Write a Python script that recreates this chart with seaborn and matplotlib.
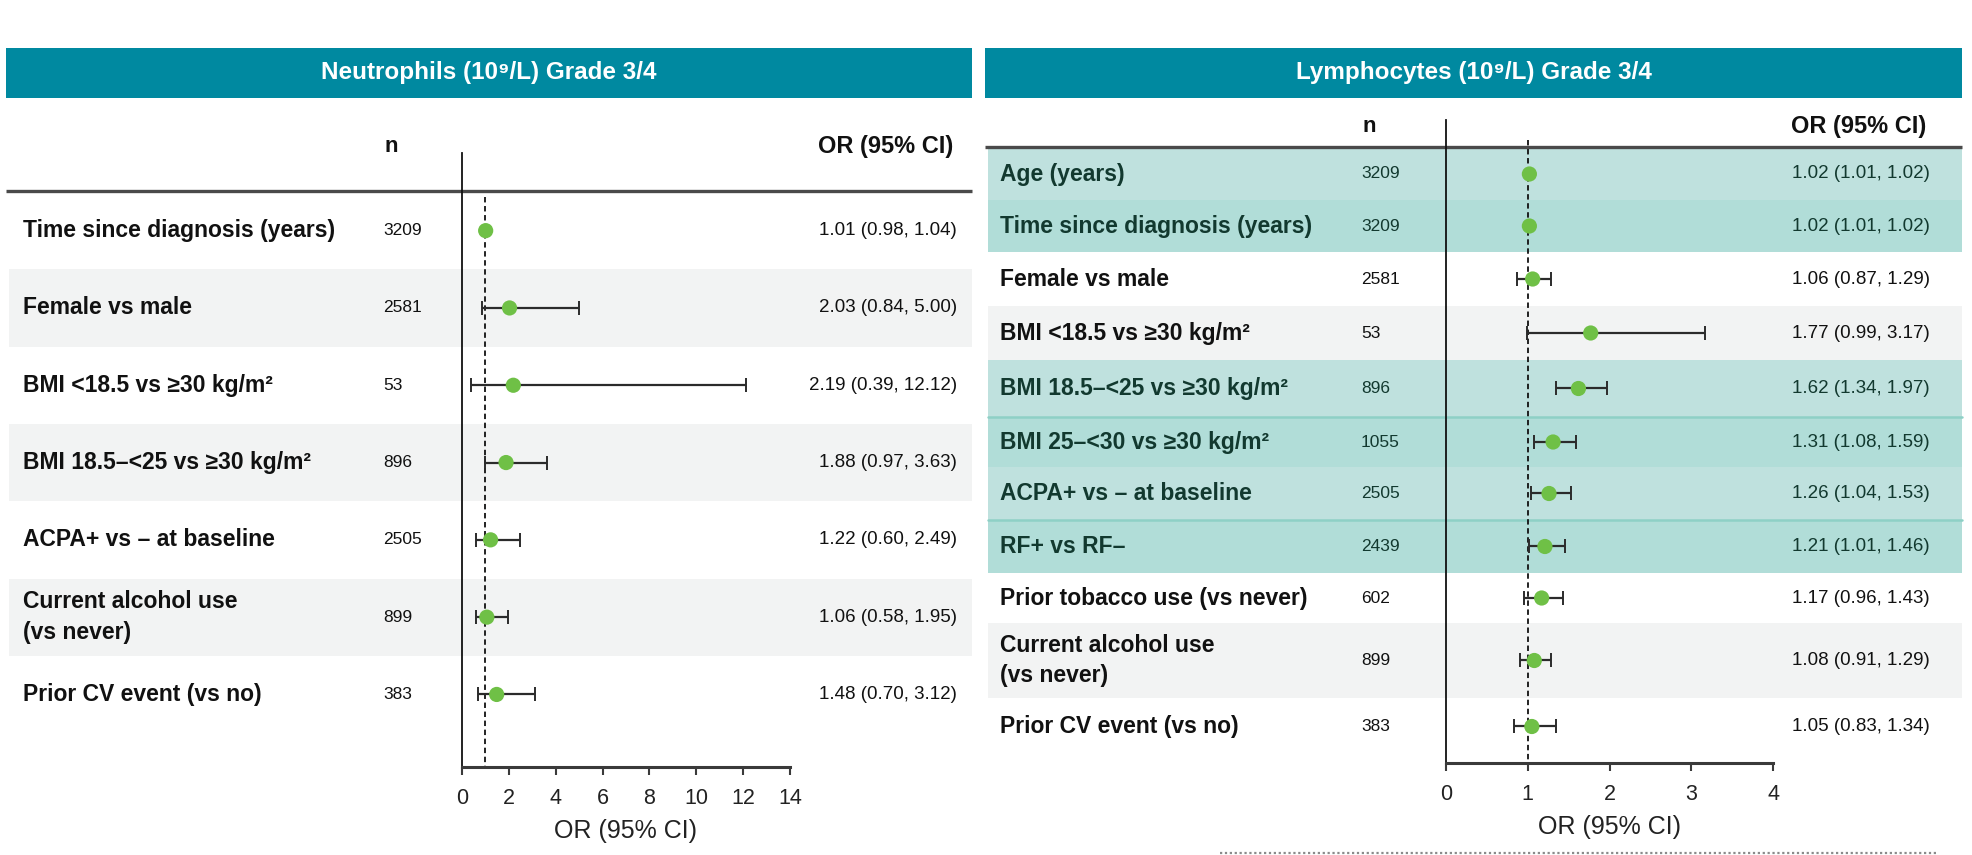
import numpy as np
import pandas as pd
import matplotlib
matplotlib.use("Agg")
import matplotlib.pyplot as plt
import seaborn as sns
from matplotlib.patches import Rectangle
from matplotlib.lines import Line2D

sns.set_theme(style="white")
plt.rcParams['font.family'] = ['Liberation Sans', 'DejaVu Sans']

# ---------------- data ----------------
neu_title = "Neutrophils (10⁹/L) Grade 3/4"
neu_labels = ["Time since diagnosis (years)", "Female vs male",
              "BMI <18.5 vs ≥30 kg/m²", "BMI 18.5–<25 vs ≥30 kg/m²",
              "ACPA+ vs – at baseline", "Current alcohol use\n(vs never)",
              "Prior CV event (vs no)"]
neu_n = [3209, 2581, 53, 896, 2505, 899, 383]
neu_or = [1.01, 2.03, 2.19, 1.88, 1.22, 1.06, 1.48]
neu_lo = [0.98, 0.84, 0.39, 0.97, 0.60, 0.58, 0.70]
neu_hi = [1.04, 5.00, 12.12, 3.63, 2.49, 1.95, 3.12]
neu_ticks = [0, 2, 4, 6, 8, 10, 12, 14]

lym_title = "Lymphocytes (10⁹/L) Grade 3/4"
lym_labels = ["Age (years)", "Time since diagnosis (years)", "Female vs male",
              "BMI <18.5 vs ≥30 kg/m²", "BMI 18.5–<25 vs ≥30 kg/m²",
              "BMI 25–<30 vs ≥30 kg/m²", "ACPA+ vs – at baseline",
              "RF+ vs RF–", "Prior tobacco use (vs never)",
              "Current alcohol use\n(vs never)", "Prior CV event (vs no)"]
lym_n = [3209, 3209, 2581, 53, 896, 1055, 2505, 2439, 602, 899, 383]
lym_or = [1.02, 1.02, 1.06, 1.77, 1.62, 1.31, 1.26, 1.21, 1.17, 1.08, 1.05]
lym_lo = [1.01, 1.01, 0.87, 0.99, 1.34, 1.08, 1.04, 1.01, 0.96, 0.91, 0.83]
lym_hi = [1.02, 1.02, 1.29, 3.17, 1.97, 1.59, 1.53, 1.46, 1.43, 1.29, 1.34]
lym_ticks = [0, 1, 2, 3, 4]

# row styling: None = white, 'g' = light grey, 'a'/'b' = teal highlight
neu_fill = [None, 'g', None, 'g', None, 'g', None]
lym_fill = ['a', 'b', None, 'g', 'a', 'b', 'a', 'b', None, 'g', None]

# ---------------- style ----------------
HEADER = "#0089A0"
GREY = "#F2F3F3"
TEAL = {'a': "#BFE1DE", 'b': "#B1DDD8"}
TEAL_TEXT = "#12392F"
TEAL_RULE = "#8ED0C6"
GREEN = "#6FC046"
BAR = "#2B2B2B"
TXT = "#111111"

W, H = 1972, 855
fig = plt.figure(figsize=(W / 100, H / 100), dpi=100)
bg = fig.add_axes([0, 0, 1, 1], zorder=0)
bg.set_xlim(0, W)
bg.set_ylim(H, 0)
bg.axis("off")


def row_edges(top, heights):
    edges = top + np.concatenate([[0], np.cumsum(heights)])
    return edges[:-1], edges[1:], (edges[:-1] + edges[1:]) / 2


def panel(title, labels, n, orv, lo, hi, ticks, fills, geo):
    x0, x1 = geo['x0'], geo['x1']
    # header bar
    bg.add_patch(Rectangle((x0, 48), x1 - x0, 50, color=HEADER, lw=0))
    bg.text((x0 + x1) / 2, 73, title, color="white", fontsize=17.5,
            fontweight="bold", ha="center", va="center")
    # column headings
    bg.text(geo['nx'] + 1, geo['head_y'], "n", fontsize=16, fontweight="bold",
            ha="left", va="center", color=TXT)
    bg.text(geo['orx'] - 4, geo['head_y'], "OR (95% CI)", fontsize=17,
            fontweight="bold", ha="right", va="center", color=TXT)

    tops, bots, mids = row_edges(geo['rows_top'], geo['heights'])
    for i, f in enumerate(fills):
        if f is None:
            continue
        col = GREY if f == 'g' else TEAL[f]
        bg.add_patch(Rectangle((x0 + 3, tops[i]), x1 - x0 - 3,
                               bots[i] - tops[i], color=col, lw=0))
    for i in range(1, len(fills)):
        if fills[i] == 'b' and fills[i - 1] == 'a' and i != 1:
            bg.plot([x0 + 3, x1], [tops[i], tops[i]], color=TEAL_RULE, lw=1.8)

    bg.plot([x0, x1], [geo['rule_y'], geo['rule_y']], color="#4A4A4A",
            lw=2.4, solid_capstyle="butt")

    for i, lab in enumerate(labels):
        c = TEAL_TEXT if fills[i] in ('a', 'b') else TXT
        bg.text(geo['lx'], mids[i], lab, fontsize=16.5, fontweight="bold",
                ha="left", va="center", color=c, linespacing=1.42)
        bg.text(geo['nx'], mids[i], str(n[i]), fontsize=12.5, ha="left",
                va="center", color=c)
        bg.text(geo['orx'], mids[i],
                f"{orv[i]:.2f} ({lo[i]:.2f}, {hi[i]:.2f})", fontsize=13.5,
                ha="right", va="center", color=c)

    # forest plot axes; y data are figure pixel rows
    ax_l, ax_r, ax_t, ax_b = geo['ax']
    ax = fig.add_axes([ax_l / W, 1 - ax_b / H, (ax_r - ax_l) / W,
                       (ax_b - ax_t) / H], zorder=2)
    ax.set_facecolor("none")
    df = pd.DataFrame({"OR": orv, "lo": lo, "hi": hi, "y": mids})
    ax.plot([1, 1], [geo['dash_top'], ax_b], color="#111111", lw=1.3,
            ls=(0, (3, 2)), zorder=1)
    ax.errorbar(df["OR"], df["y"],
                xerr=[df["OR"] - df["lo"], df["hi"] - df["OR"]],
                fmt="none", ecolor=BAR, elinewidth=1.6, capsize=5,
                capthick=1.4, zorder=2)
    sns.scatterplot(data=df, x="OR", y="y", ax=ax, color=GREEN, s=120,
                    edgecolor="none", zorder=3, legend=False)
    ax.set_xlim(ticks[0], ticks[-1])
    ax.set_ylim(ax_b, ax_t)
    ax.set_xticks(ticks)
    ax.set_xticklabels([str(t) for t in ticks])
    ax.set_yticks([])
    ax.set_ylabel("")
    ax.set_xlabel("OR (95% CI)", fontsize=18, color="#222222", labelpad=7)
    for s in ("top", "right"):
        ax.spines[s].set_visible(False)
    ax.spines["left"].set_color("#111111")
    ax.spines["left"].set_linewidth(1.3)
    ax.spines["bottom"].set_color("#3A3A3A")
    ax.spines["bottom"].set_linewidth(2.2)
    ax.tick_params(axis="x", direction="out", length=6, width=1.5,
                   colors="#3A3A3A", labelsize=15.5, labelcolor="#222222",
                   pad=9, bottom=True)
    return ax


panel(neu_title, neu_labels, neu_n, neu_or, neu_lo, neu_hi, neu_ticks,
      neu_fill,
      dict(x0=6, x1=972, head_y=146, rule_y=191, rows_top=192,
           heights=[77.3] * 7, lx=23, nx=383, orx=957,
           ax=(462, 790, 153, 767), dash_top=197))

panel(lym_title, lym_labels, lym_n, lym_or, lym_lo, lym_hi, lym_ticks,
      lym_fill,
      dict(x0=985, x1=1962, head_y=126, rule_y=147, rows_top=148,
           heights=[52, 52, 54, 54, 57, 50, 53, 53, 50, 75, 57],
           lx=1000, nx=1361, orx=1930,
           ax=(1446, 1773, 120, 763), dash_top=140))

# dotted footer rule under the right-hand panel
fig.add_artist(Line2D([1220 / W, 1938 / W], [1 - 853 / H, 1 - 853 / H],
                      color="#8A8A8A", lw=1.6, ls=(0, (1, 1.2))))

fig.savefig("out.png", dpi=100)
